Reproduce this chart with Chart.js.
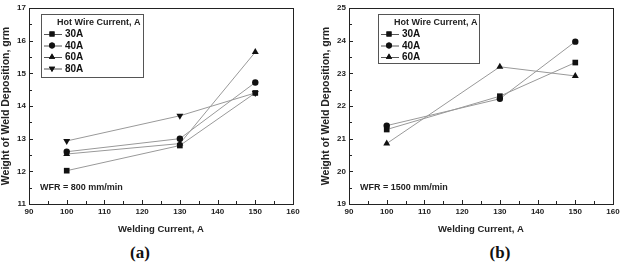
<!DOCTYPE html>
<html>
<head>
<meta charset="utf-8">
<script src="https://cdn.jsdelivr.net/npm/chart.js@4"></script>
<style>
  body { margin: 0; background: #fff; }
  .wrap { display: flex; width: 640px; height: 264px; }
  .panel { position: relative; width: 320px; height: 264px; }
  .panel canvas { position: absolute; left: 0; top: 0; }
  .tag { position: absolute; top: 243px; width: 320px; font: bold 17px "Liberation Serif", serif; color: #111; text-align: center; }
</style>
</head>
<body>
<div class="wrap">
  <div class="panel"><canvas id="chart-a" width="320" height="240"></canvas><div class="tag" style="left:-20px">(a)</div></div>
  <div class="panel"><canvas id="chart-b" width="320" height="240"></canvas><div class="tag" style="left:20px">(b)</div></div>
</div>
<script>
// welding current (x) and hot wire current series
const weldingCurrent = [100, 130, 150];

// panel (a) WFR = 800 mm/min
const a30 = [12.02, 12.79, 14.40];
const a40 = [12.60, 13.00, 14.72];
const a60 = [12.53, 12.85, 15.65];
const a80 = [12.93, 13.70, 14.40];

// panel (b) WFR = 1500 mm/min
const b30 = [21.28, 22.30, 23.33];
const b40 = [21.40, 22.22, 23.97];
const b60 = [20.85, 23.20, 22.92];

const xTicks = [90, 100, 110, 120, 130, 140, 150, 160];
const yTicksA = [11, 12, 13, 14, 15, 16, 17];
const yTicksB = [19, 20, 21, 22, 23, 24, 25];

const legendTitle = 'Hot Wire Current, A';
const xTitle = 'Welding Current, A';
const yTitle = 'Weight of Weld Deposition, grm';

const markers = {
    '30A': { style: 'rect', rot: 0, r: 4 },
    '40A': { style: 'circle', rot: 0, r: 3.2 },
    '60A': { style: 'triangle', rot: 0, r: 4 },
    '80A': { style: 'triangle', rot: 180, r: 4 }
};

function makeSet(label, values) {
    const m = markers[label];
    return {
        label: label,
        data: weldingCurrent.map((x, i) => ({ x: x, y: values[i] })),
        borderColor: '#999',
        borderWidth: 1,
        pointStyle: m.style,
        rotation: m.rot,
        pointRadius: m.r,
        pointBackgroundColor: '#111',
        pointBorderColor: '#111',
        pointBorderWidth: 0,
        tension: 0
    };
}

// frame, inward ticks, legend box and note
const decorations = {
    id: 'decorations',
    afterDraw(chart, args, opts) {
        const ctx = chart.ctx;
        const area = chart.chartArea;
        const xs = chart.scales.x, ys = chart.scales.y;
        ctx.save();
        ctx.strokeStyle = '#222';
        ctx.lineWidth = 1;
        ctx.strokeRect(area.left + 0.5, area.top + 0.5, area.right - area.left, area.bottom - area.top);

        // inward ticks
        ctx.beginPath();
        for (let v = xs.min; v <= xs.max; v += 5) {
            const px = Math.round(xs.getPixelForValue(v)) + 0.5;
            const len = (v % 10 === 0) ? 4 : 3;
            ctx.moveTo(px, area.bottom);
            ctx.lineTo(px, area.bottom - len);
        }
        for (let v = ys.min; v <= ys.max + 1e-6; v += 0.5) {
            const py = Math.round(ys.getPixelForValue(v)) + 0.5;
            const len = (Math.abs(v - Math.round(v)) < 1e-6) ? 4 : 3;
            ctx.moveTo(area.left, py);
            ctx.lineTo(area.left + len, py);
        }
        ctx.stroke();

        // legend
        const lb = opts.box;
        ctx.strokeStyle = '#555';
        ctx.strokeRect(lb.x + 0.5, lb.y + 0.5, lb.w, lb.h);
        ctx.fillStyle = '#222';
        ctx.font = 'bold 9px "Liberation Sans", Arial, sans-serif';
        ctx.textBaseline = 'middle';
        ctx.textAlign = 'left';
        ctx.fillText(legendTitle, lb.x + 16, lb.y + 9);
        ctx.font = 'bold 10px "Liberation Sans", Arial, sans-serif';
        chart.data.datasets.forEach((ds, i) => {
            const cy = lb.y + 20 + i * 11.5;
            ctx.strokeStyle = '#555';
            ctx.beginPath();
            ctx.moveTo(lb.x + 3, cy + 0.5);
            ctx.lineTo(lb.x + 21, cy + 0.5);
            ctx.stroke();
            Chart.helpers.drawPoint(ctx, {
                pointStyle: ds.pointStyle, rotation: ds.rotation, radius: ds.pointRadius * 0.9, borderWidth: 0
            }, lb.x + 11, cy);
            ctx.fillStyle = '#111';
            ctx.fill();
            ctx.fillText(ds.label, lb.x + 24, cy + 0.5);
        });

        // note
        ctx.font = 'bold 9px "Liberation Sans", Arial, sans-serif';
        ctx.fillStyle = '#222';
        ctx.fillText(opts.note, area.left + 11, area.bottom - 16);
        ctx.restore();
    }
};

function makeChart(id, sets, yMin, yMax, box, note) {
    const ctx = document.getElementById(id).getContext('2d');
    return new Chart(ctx, {
        type: 'line',
        data: { datasets: sets },
        plugins: [decorations],
        options: {
            responsive: false,
            animation: false,
            layout: { padding: { left: 0, right: 27, top: 8, bottom: 5 } },
            plugins: {
                legend: { display: false },
                tooltip: { enabled: false },
                decorations: { box: box, note: note }
            },
            scales: {
                x: {
                    type: 'linear',
                    min: 90, max: 160,
                    afterBuildTicks: s => { s.ticks = xTicks.map(v => ({ value: v })); },
                    afterFit: s => { s.height = 31; },
                    grid: { display: false, drawTicks: false },
                    border: { display: false },
                    ticks: { color: '#222', font: { size: 8, weight: 'bold', family: '"Liberation Sans", Arial' }, padding: 3, maxRotation: 0 },
                    title: { display: true, text: xTitle, color: '#222', padding: { top: 5, bottom: 0 },
                             font: { size: 9.5, weight: 'bold', family: '"Liberation Sans", Arial' } }
                },
                y: {
                    min: yMin, max: yMax,
                    afterBuildTicks: s => { s.ticks = (yMin === 11 ? yTicksA : yTicksB).map(v => ({ value: v })); },
                    afterFit: s => { s.width = 29; },
                    grid: { display: false, drawTicks: false },
                    border: { display: false },
                    ticks: { color: '#222', font: { size: 8, weight: 'bold', family: '"Liberation Sans", Arial' }, padding: 3 },
                    title: { display: true, text: yTitle, color: '#222', padding: 0,
                             font: { size: 10.5, weight: 'bold', family: '"Liberation Sans", Arial' } }
                }
            }
        }
    });
}

makeChart('chart-a',
    [makeSet('30A', a30), makeSet('40A', a40), makeSet('60A', a60), makeSet('80A', a80)],
    11, 17, { x: 41, y: 14, w: 102, h: 63 }, 'WFR = 800 mm/min');

makeChart('chart-b',
    [makeSet('30A', b30), makeSet('40A', b40), makeSet('60A', b60)],
    19, 25, { x: 58, y: 14, w: 101, h: 49 }, 'WFR = 1500 mm/min');
</script>
</body>
</html>
